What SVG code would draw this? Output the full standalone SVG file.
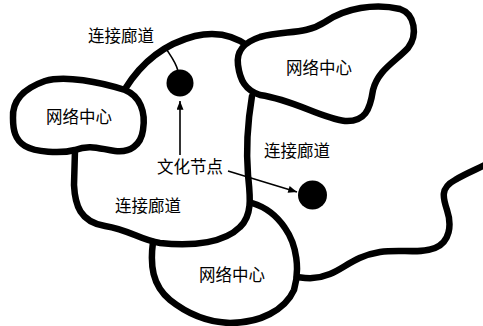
<svg xmlns="http://www.w3.org/2000/svg" width="483" height="326" viewBox="0 0 483 326">
<style>
.edge{fill:none;stroke:#000;stroke-width:6.5;stroke-linecap:round;stroke-linejoin:round}
.blob{fill:#fff;stroke:#000;stroke-width:6.5;stroke-linejoin:round}
.lbl{font-family:"Noto Sans CJK SC","Noto Sans",sans-serif;font-size:16.5px;fill:#000;text-anchor:middle}
.thin{fill:none;stroke:#000;stroke-width:1.6}
.dot{fill:#000}
</style>
<defs>
<marker id="ah" viewBox="0 0 10 8" refX="10" refY="4" markerWidth="10" markerHeight="7" markerUnits="userSpaceOnUse" orient="auto">
<path d="M0,0 L10,4 L0,8 Z" fill="#000"/>
</marker>
</defs>
<rect width="483" height="326" fill="#fff"/>
<g id="corridors">
<path class="edge" d="M125,89 C138,68 160,45 195,36 C220,30 238,38 250,47"/>
<path class="edge" d="M252,96 C248,120 246,150 248,175 C250,195 253,215 240,227 C225,242 195,247 160,243 C140,240 130,230 105,226 C80,222 75,205 74,185 L75,150"/>
<path class="edge" d="M297,277 C305,278 315,280 330,274 C345,268 355,256 380,252 C400,249 420,254 435,248 C450,242 452,225 447,210 C443,198 440,188 455,180 C465,174 475,170 485,165"/>
</g>
<g id="hub-left">
<path class="blob" d="M13,118 C12,100 25,88 45,81 C65,75 100,82 125,90 C140,96 146,112 143,130 C141,145 130,153 115,151 C100,149 90,144 75,150 C60,154 35,152 25,146 C15,140 13,130 13,118 Z"/>
<text class="lbl" x="79" y="123">网络中心</text>
</g>
<g id="hub-topright">
<path class="blob" d="M238,65 C236,50 245,42 260,37 C285,30 305,35 325,22 C345,8 375,3 400,9 C415,14 418,35 408,48 C395,62 378,70 373,90 C370,110 365,122 345,121 C320,118 295,100 260,95 C245,90 240,80 238,65 Z"/>
<text class="lbl" x="319" y="74">网络中心</text>
</g>
<g id="hub-bottom">
<path class="edge" d="M153,242 C150,265 152,285 170,300 C185,312 205,322 230,323 C260,323 285,310 294,290 C300,270 297,245 285,228 C275,213 262,206 252,203"/>
<text class="lbl" x="232" y="281">网络中心</text>
</g>
<g id="corridor-labels">
<text class="lbl" x="121" y="42">连接廊道</text>
<text class="lbl" x="297" y="157">连接廊道</text>
<text class="lbl" x="148" y="212">连接廊道</text>
</g>
<g id="node-1">
<circle class="dot" cx="180" cy="83" r="13.5"/>
</g>
<g id="node-2">
<circle class="dot" cx="312.5" cy="195" r="14.5"/>
</g>
<g id="node-label">
<text class="lbl" x="190" y="173">文化节点</text>
</g>
<g id="connectors">
<path class="thin" d="M165,47 C170,55 176,62 178,71" stroke-width="2.2"/>
<line class="thin" x1="180" y1="155" x2="180" y2="101" marker-end="url(#ah)"/>
<line class="thin" x1="228" y1="171" x2="297" y2="192" marker-end="url(#ah)"/>
</g>
</svg>
